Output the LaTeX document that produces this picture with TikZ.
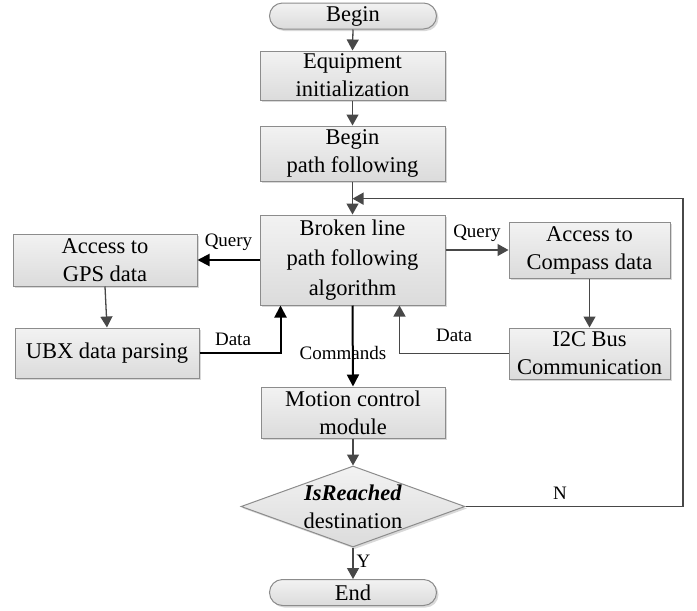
\documentclass[tikz,border=0pt]{standalone}
\usepackage{fontspec}
\setmainfont{Liberation Serif}
\usetikzlibrary{arrows.meta,shapes.geometric,shadows,calc}
\definecolor{boxline}{HTML}{8C8C8C}
\definecolor{arrgray}{HTML}{484848}
\begin{document}
\begin{tikzpicture}[x=1pt,y=-1pt,
  every node/.style={font=\fontsize{22.5}{28}\selectfont},
  procbox/.style={draw=boxline, line width=1pt, top color=white!95!black, bottom color=white!86!black,
    drop shadow={shadow xshift=2pt, shadow yshift=-2pt, fill=black!25, opacity=0.6},
    align=center, inner sep=0pt},
  termbox/.style={procbox, rounded corners=13pt, minimum width=167pt, minimum height=26pt},
  garrow/.style={draw=arrgray, line width=1.3pt, -{Triangle[length=11pt,width=12pt]}},
  barrow/.style={draw=black, line width=2pt, -{Triangle[length=12pt,width=12pt]}},
  lbl/.style={font=\fontsize{19}{22}\selectfont, inner sep=0pt}
]
\useasboundingbox (0,0) rectangle (697,611);

\node[termbox] (begin) at (353,16) {Begin};
\node[procbox, minimum width=185pt, minimum height=49pt] (equip) at (352.5,75.5) {Equipment\\initialization};
\node[procbox, minimum width=185pt, minimum height=55pt] (bpf) at (352.5,153.5) {Begin\\path following};
\node[procbox, minimum width=185pt, minimum height=90pt, font=\fontsize{22.5}{30}\selectfont] (broken) at (352.5,260) {Broken line\\path following\\algorithm};
\node[procbox, minimum width=184pt, minimum height=52pt] (gps) at (105,260) {Access to\\GPS data};
\node[procbox, minimum width=184pt, minimum height=50pt] (ubx) at (107,353) {UBX data parsing};
\node[procbox, minimum width=161pt, minimum height=56pt] (compass) at (589.5,250) {Access to\\Compass data};
\node[procbox, minimum width=161pt, minimum height=51pt] (i2c) at (589.5,353.5) {I2C Bus\\Communication};
\node[procbox, minimum width=184pt, minimum height=51pt] (motion) at (353,412.5) {Motion control\\module};
\node[procbox, shape=diamond, minimum width=224pt, minimum height=81pt] (dia) at (353,506.5) {};
\node[align=center, inner sep=0pt] (diatext) at (dia.center) {\textbf{\textit{IsReached}}\\destination};
\node[termbox] (end) at (353,592.5) {End};

\draw[garrow] (begin.south) -- (equip.north);
\draw[garrow] (equip.south) -- (bpf.north);
\draw[garrow] (bpf.south) -- (broken.north);
\draw[garrow] (gps.south) -- (ubx.north);
\draw[garrow] (compass.south) -- (i2c.north);
\draw[garrow] (motion.south) -- (dia.north);
\draw[garrow] (dia.south) -- node[lbl, right=3pt, pos=0.45] (ylbl) {Y} (end.north);

\coordinate (loopend) at ($(bpf.south)!0.52!(broken.north)$);
\coordinate (loopcorner) at (683,0 |- dia.east);
\draw[garrow] (dia.east) -- (loopcorner) |- (loopend);
\node[lbl] (nlbl) at (560,493) {N};

\draw[barrow] (broken.west) -- node[lbl, above=8pt, pos=0.5] (q1) {Query} (gps.east);
\draw[garrow] (broken.east |- compass.west) -- node[lbl, above=8pt] (q2) {Query} (compass.west);

\coordinate (ubxin) at ([xshift=-72pt]broken.south);
\draw[barrow] (ubx.east) -| (ubxin);
\node[lbl] (d1) at (233,339) {Data};

\coordinate (i2cin) at ([xshift=47pt]broken.south);
\draw[garrow] (i2c.west) -| (i2cin);
\node[lbl] (d2) at (454,335) {Data};

\draw[barrow] (broken.south) -- (motion.north);
\node[lbl] (cmd) at (343,353) {Commands};
\end{tikzpicture}
\end{document}
